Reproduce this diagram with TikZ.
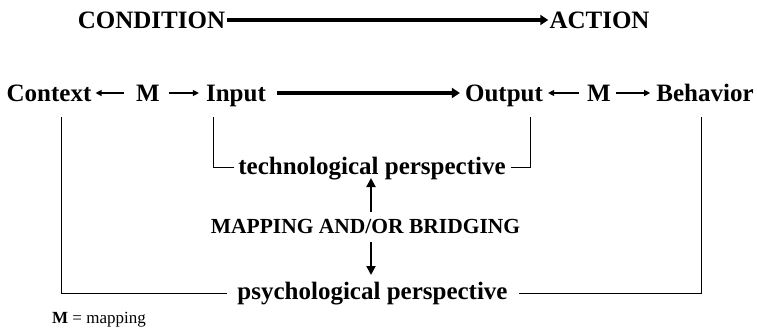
\documentclass[tikz,border=0pt]{standalone}
\usepackage{fontspec}
\setmainfont{Liberation Serif}
\usetikzlibrary{arrows.meta}
\begin{document}
\begin{tikzpicture}[x=1pt,y=-1pt,
  lbl/.style={inner sep=0pt,anchor=base,font=\fontsize{25}{30}\selectfont\bfseries},
  midlbl/.style={inner sep=0pt,anchor=base,font=\fontsize{21.5}{26}\selectfont\bfseries},
  bigarrow/.style={line width=3.2pt,-{Triangle[length=8pt,width=10pt]}},
  smallarrow/.style={line width=1.2pt,-{Triangle[length=6pt,width=6pt]}},
  vertarrow/.style={line width=2pt,-{Triangle[length=9pt,width=9pt]}},
  bracket/.style={line width=1pt}]
\useasboundingbox (0,0) rectangle (757,330);
% row 1
\node[lbl] (cond) at (151.5,28) {CONDITION};
\node[lbl] (act) at (599.5,28) {ACTION};
\draw[bigarrow, shorten <=2pt, shorten >=1pt] ([yshift=8pt]cond.base east) -- ([yshift=8pt]act.base west);
% row 2
\node[lbl] (ctx) at (49,101) {Context};
\node[lbl] (m1) at (148,101) {M};
\node[lbl] (inp) at (236,101) {Input};
\node[lbl] (out) at (504,101) {Output};
\node[lbl] (m2) at (599,101) {M};
\node[lbl] (beh) at (705,101) {Behavior};
\draw[smallarrow, shorten <=12pt, shorten >=4pt] ([yshift=8pt]m1.base west) -- ([yshift=8pt]ctx.base east);
\draw[smallarrow, shorten <=9pt, shorten >=7pt] ([yshift=8pt]m1.base east) -- ([yshift=8pt]inp.base west);
\draw[bigarrow, shorten <=11pt, shorten >=5pt] ([yshift=8pt]inp.base east) -- ([yshift=8pt]out.base west);
\draw[smallarrow, shorten <=8pt, shorten >=5pt] ([yshift=8pt]m2.base west) -- ([yshift=8pt]out.base east);
\draw[smallarrow, shorten <=5pt, shorten >=6pt] ([yshift=8pt]m2.base east) -- ([yshift=8pt]beh.base west);
% technological perspective
\node[lbl] (tech) at (372,174) {technological perspective};
\draw[bracket] ([shift={(-23,16)}]inp.base) |- ([shift={(-4,-7)}]tech.base west);
\draw[bracket] ([shift={(26,16)}]out.base) |- ([shift={(5,-7)}]tech.base east);
% mapping
\node[midlbl] (map) at (365.5,233) {MAPPING AND/OR BRIDGING};
\coordinate (uptail) at ([shift={(5.5,-21)}]map.base);
\coordinate (downtail) at ([shift={(5.5,9)}]map.base);
\draw[vertarrow] (uptail) -- ([shift={(5.5,-55)}]map.base);
% psychological perspective
\node[lbl] (psy) at (372.5,299) {psychological perspective};
\draw[vertarrow] (downtail) -- ([shift={(5.5,42)}]map.base);
\draw[bracket] ([shift={(12,16)}]ctx.base) |- ([shift={(-10,-6)}]psy.base west);
\draw[bracket] ([shift={(-4,16)}]beh.base) |- ([shift={(11,-6)}]psy.base east);
% legend
\node[inner sep=0pt,anchor=base west,font=\fontsize{17}{20}\selectfont] (legend) at (52,323) {\textbf{M} = mapping};
\end{tikzpicture}
\end{document}
